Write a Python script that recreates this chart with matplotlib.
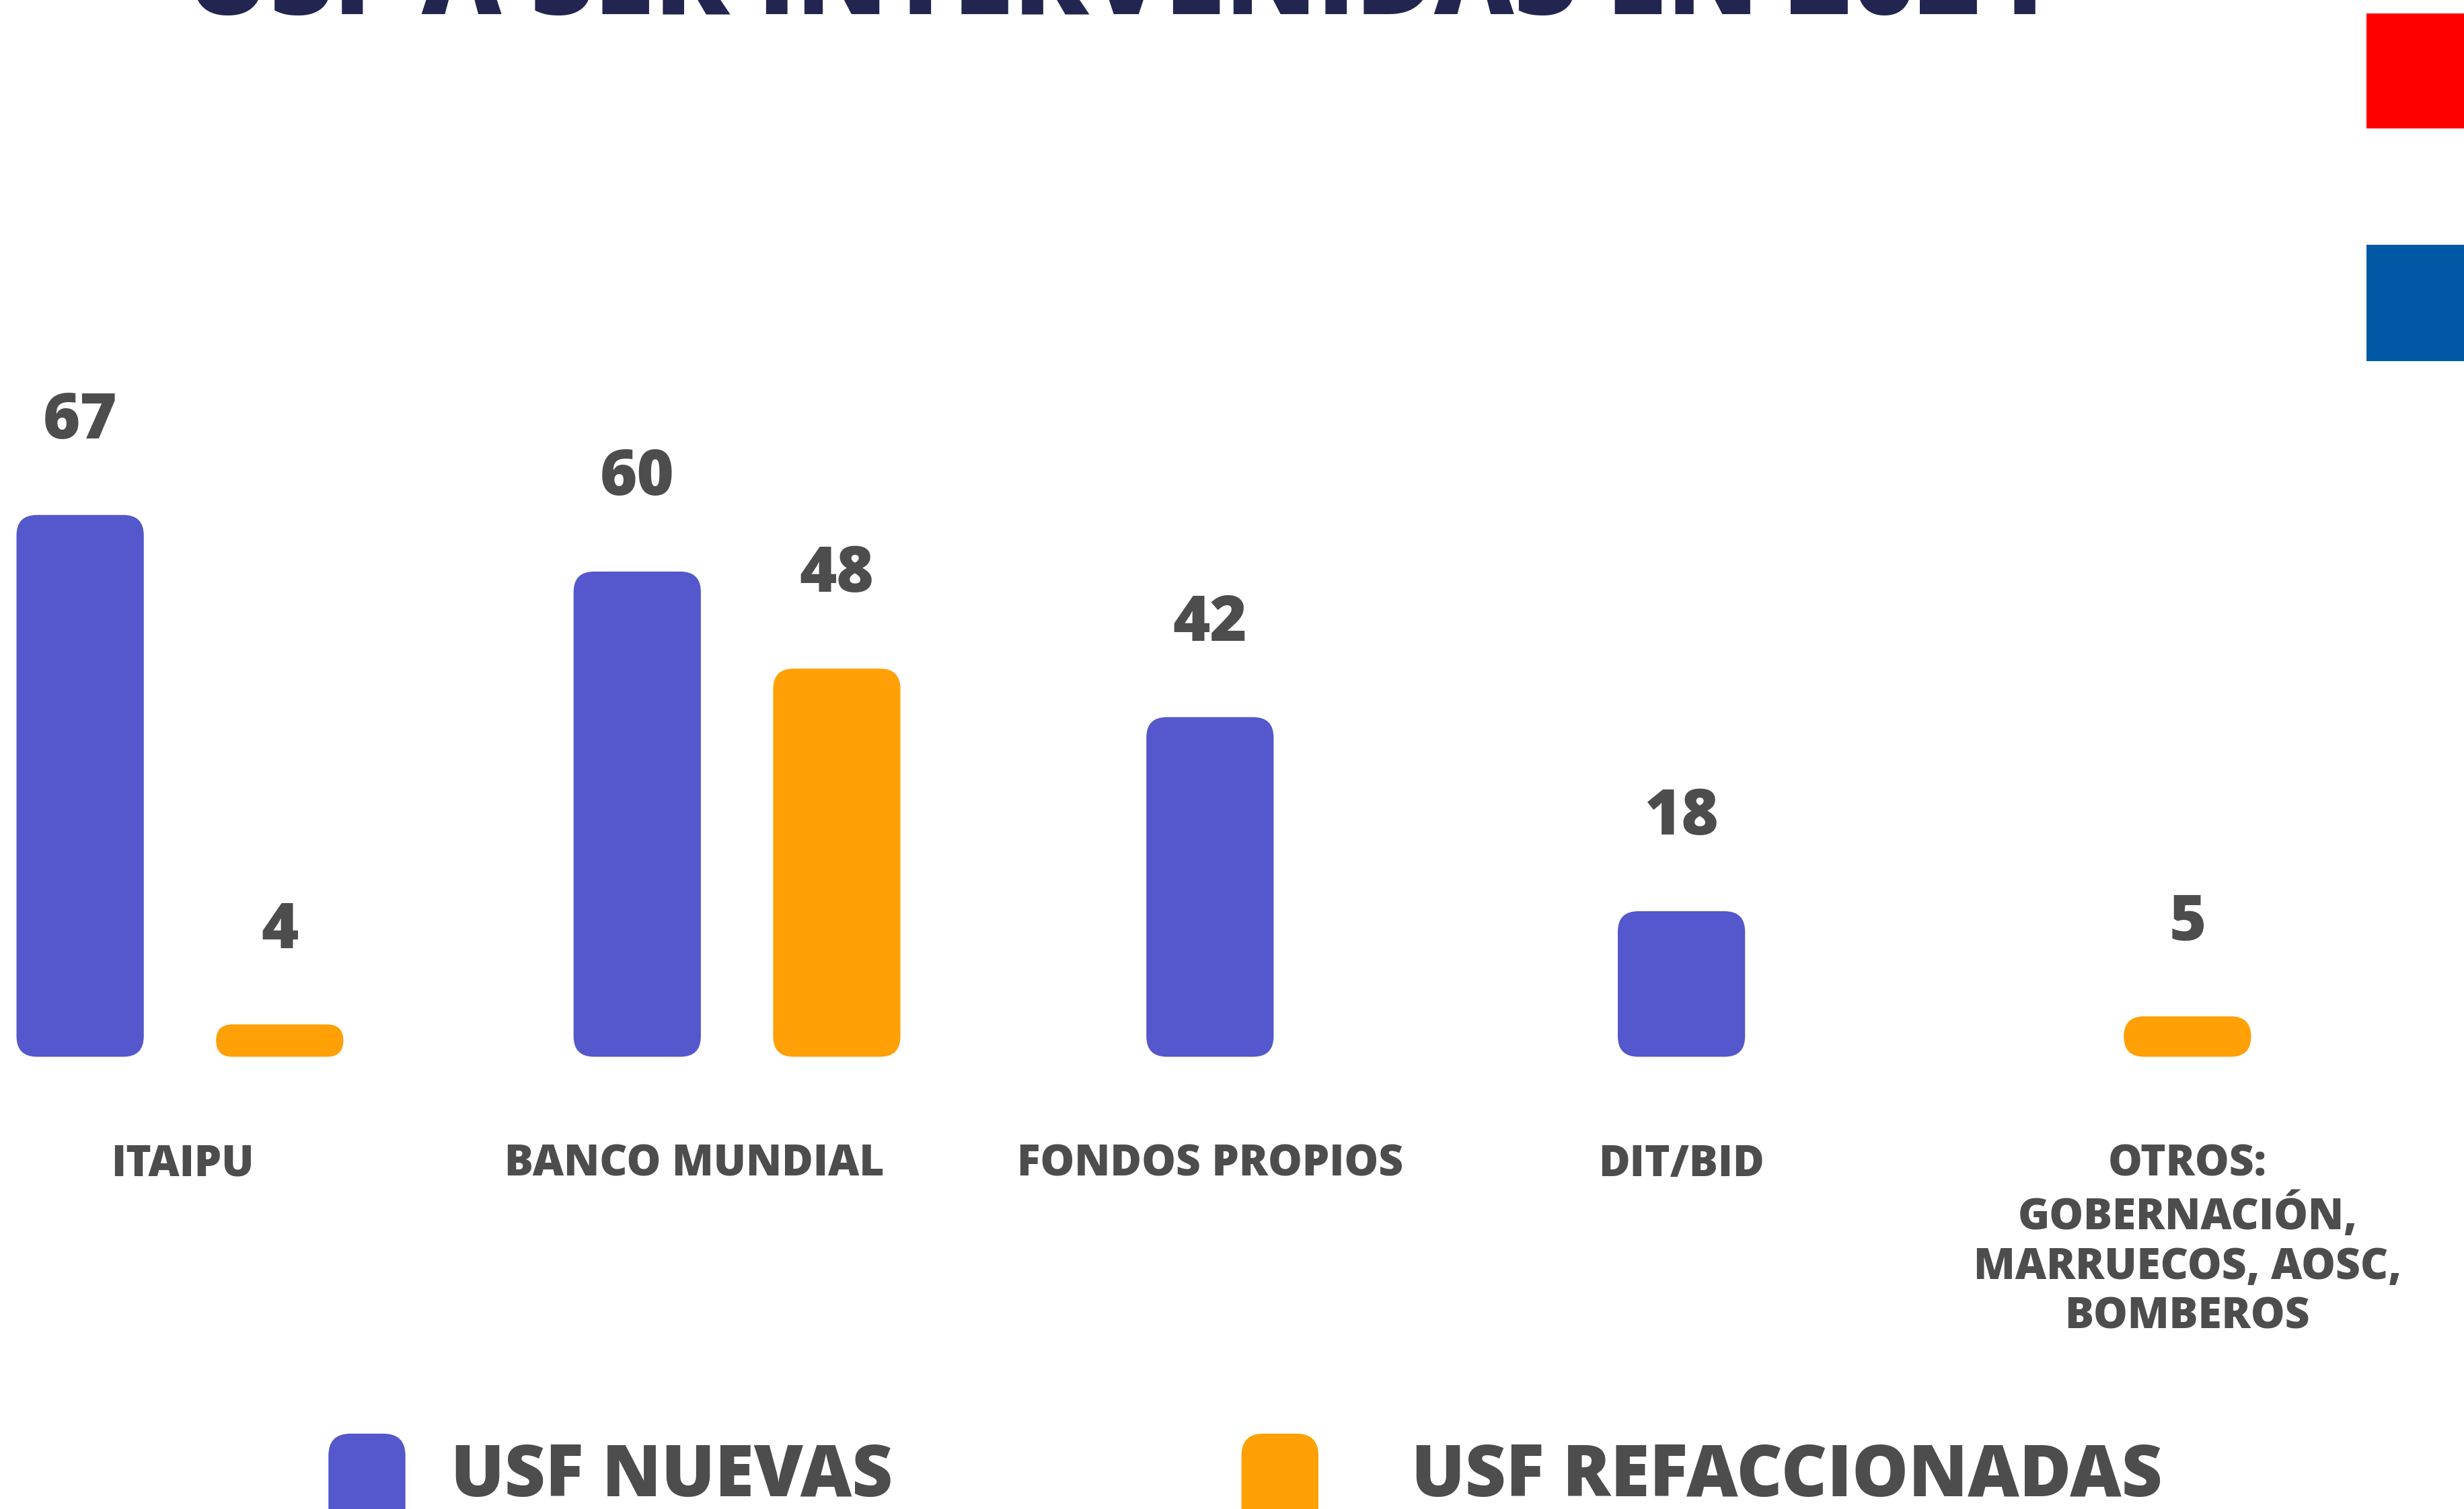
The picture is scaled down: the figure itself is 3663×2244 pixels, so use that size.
import numpy as np
import matplotlib.pyplot as plt
from matplotlib.patches import FancyBboxPatch, Rectangle

# data
categories = ["ITAIPU", "BANCO MUNDIAL", "FONDOS PROPIOS", "DIT/BID",
              "OTROS:\nGOBERNACIÓN,\nMARRUECOS, AOSC,\nBOMBEROS"]
usf_nuevas = [67, 60, 42, 18, 0]
usf_refaccionadas = [4, 48, 0, 0, 5]
series_names = ["USF NUEVAS", "USF REFACCIONADAS"]
title = "USF A SER INTERVENIDAS EN 2024"

BLUE = "#5557CC"
ORANGE = "#FFA006"
TEXT = "#4D4D4D"
NAVY = "#22254F"
FONT = "Open Sans"

# layout, measured in px of a 1568 px wide frame
W, H = 1568, 961
group_x = [114.5, 469, 770, 1070, 1392]
label_x = [116, 442, 770, 1070, 1392]
pair_gap = 127
bar_w = 81
px_per_unit = 5.15
base_px = 288  # baseline distance from bottom edge

plt.rcParams['font.family'] = [FONT, 'DejaVu Sans']

fig = plt.figure(figsize=(36.63, 22.44), dpi=100)
fig.patch.set_facecolor("white")

ax = fig.add_axes([0, 0, 1, 1])
ax.set_xlim(0, W)
ax.set_ylim(-base_px / px_per_unit, (H - base_px) / px_per_unit)
ax.axis("off")
aspect = 1 / px_per_unit


def rounded_bar(x, h, color, r=13):
    r = min(r, h * px_per_unit / 2)
    ax.add_patch(FancyBboxPatch((x - bar_w / 2, 0), bar_w, h,
                                boxstyle=f"round,pad=0,rounding_size={r}",
                                mutation_aspect=aspect, fc=color, ec="none"))
    ax.text(x, h + 11.5, str(h), ha="center", va="center", fontsize=68,
            fontweight="heavy", color=TEXT)


for i, cat in enumerate(categories):
    vals = [(usf_nuevas[i], BLUE), (usf_refaccionadas[i], ORANGE)]
    vals = [v for v in vals if v[0] > 0]
    if len(vals) == 2:
        xs = [group_x[i] - pair_gap / 2, group_x[i] + pair_gap / 2]
    else:
        xs = [group_x[i]]
    for x, (v, c) in zip(xs, vals):
        rounded_bar(x, v, c)
    ax.text(label_x[i], -(728 - (H - base_px)) / px_per_unit, cat,
            ha="center", va="top", fontsize=46, fontweight="heavy",
            color=TEXT, linespacing=1.2)

# decorations in frame px (y down)
lay = fig.add_axes([0, 0, 1, 1])
lay.set_xlim(0, W)
lay.set_ylim(H, 0)
lay.axis("off")
lay.patch.set_alpha(0)

# title sits mostly above the top edge, as in the source image
lay.text(710, 9, title, ha="center", va="baseline", fontsize=118,
         fontweight="heavy", color=NAVY)

lay.add_patch(Rectangle((1506, 8.5), 62, 73.5, fc="#FF0000", ec="none"))
lay.add_patch(Rectangle((1506, 156), 62, 74, fc="#0158A4", ec="none"))

for mx, tx, name, c in [(209, 287, series_names[0], BLUE),
                        (790, 898, series_names[1], ORANGE)]:
    lay.add_patch(FancyBboxPatch((mx, 913), 49, 80,
                                 boxstyle="round,pad=0,rounding_size=14",
                                 fc=c, ec="none"))
    lay.text(tx, 953, name, ha="left", va="baseline", fontsize=76,
             fontweight="heavy", color=TEXT)

fig.savefig("out.png", dpi=100, facecolor="white")
